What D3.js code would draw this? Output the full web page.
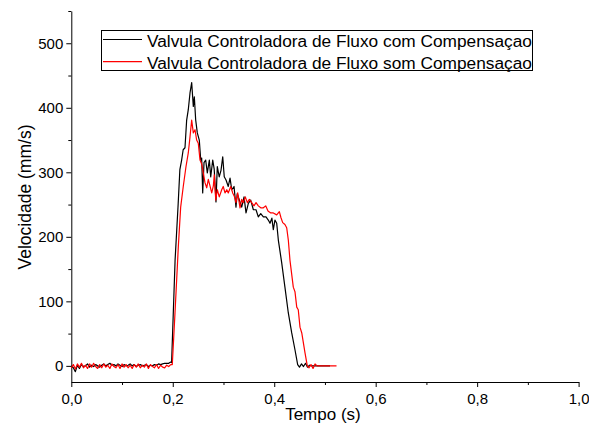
<!DOCTYPE html>
<html>
<head>
<meta charset="utf-8">
<script src="https://cdn.jsdelivr.net/npm/d3@7"></script>
<style>
  html, body { margin: 0; padding: 0; background: #fff; }
  svg { display: block; font-family: "Liberation Sans", Arial, sans-serif; }
</style>
</head>
<body>
<svg id="chart" width="589" height="425"></svg>
<script>
// Velocity of the cylinder over time for the two flow-control valves
const seriesNames = [
  "Valvula Controladora de Fluxo com Compensaçao",
  "Valvula Controladora de Fluxo som Compensaçao"
];
const seriesColors = ["#000000", "#ff0000"];

// Black trace: time (s)
const comTime = [
  0.000,0.004,0.008,0.012,0.016,0.020,0.024,0.028,0.032,0.036,
  0.040,0.044,0.048,0.052,0.056,0.060,0.064,0.068,0.072,0.076,
  0.080,0.084,0.088,0.092,0.096,0.100,0.104,0.108,0.112,0.116,
  0.120,0.124,0.128,0.132,0.136,0.140,0.144,0.148,0.152,0.156,
  0.160,0.164,0.168,0.172,0.176,0.180,0.184,0.188,0.192,0.196,
  0.1977,0.2046,0.2106,0.2140,0.2175,0.2205,0.2241,0.2274,0.2306,0.2340,
  0.2373,0.2405,0.2425,0.2452,0.2484,0.2523,0.2551,0.2570,0.2590,0.2616,
  0.2649,0.2681,0.2721,0.2748,0.2788,0.2817,0.2852,0.2878,0.2916,0.2951,
  0.2985,0.3015,0.3050,0.3094,0.3129,0.3163,0.3208,0.3246,0.3272,0.3312,
  0.3359,0.3405,0.3444,0.3490,0.3536,0.3589,0.3641,0.3686,0.3734,0.3786,
  0.3838,0.3883,0.3917,0.3954,0.3982,0.4014,0.4049,0.4081,0.4147,0.4211,
  0.4278,0.4345,0.4409,0.4462,0.4498,0.4538,0.4577,0.4617,0.4656,0.4696,
  0.4735,0.4775,0.4814,0.5100
];
// Black trace: velocity (mm/s)
const comSpeed = [
  0,-3,-9,1,-4,2,-1,0,3,-2,
  1,-1,2,0,-2,1,3,0,2,4,
  1,2,0,3,1,-1,2,0,1,3,
  0,2,-1,1,2,0,1,2,-1,1,
  0,2,1,3,2,3,4,4,4,6,
  5,164,250,304,319,335,338,381,397,423,
  439,402,417,381,361,350,319,322,268,315,
  319,299,319,293,319,305,254,309,293,303,
  324,293,288,278,291,273,278,246,267,257,
  246,262,237,252,257,242,242,231,236,231,
  231,226,221,229,211,226,221,195,160,122,
  82,51,25,2,-2,3,-1,4,-2,1,
  0,0,0,0
];

// Red trace: time (s)
const somTime = [
  0.000,0.004,0.008,0.012,0.016,0.020,0.024,0.028,0.032,0.036,
  0.040,0.044,0.048,0.052,0.056,0.060,0.064,0.068,0.072,0.076,
  0.080,0.084,0.088,0.092,0.096,0.100,0.104,0.108,0.112,0.116,
  0.120,0.124,0.128,0.132,0.136,0.140,0.144,0.148,0.152,0.156,
  0.160,0.164,0.168,0.172,0.176,0.180,0.184,0.188,0.192,0.196,
  0.1991,0.2044,0.2110,0.2156,0.2207,0.2261,0.2306,0.2340,0.2373,0.2405,
  0.2439,0.2471,0.2503,0.2537,0.2570,0.2602,0.2635,0.2669,0.2701,0.2734,
  0.2768,0.2800,0.2819,0.2847,0.2878,0.2917,0.2965,0.2995,0.3030,0.3065,
  0.3094,0.3143,0.3181,0.3213,0.3246,0.3280,0.3326,0.3359,0.3391,0.3430,
  0.3470,0.3509,0.3556,0.3601,0.3641,0.3687,0.3734,0.3786,0.3832,0.3877,
  0.3931,0.3982,0.4049,0.4101,0.4132,0.4167,0.4211,0.4246,0.4278,0.4310,
  0.4376,0.4409,0.4444,0.4474,0.4508,0.4543,0.4607,0.4652,0.4686,0.4725,
  0.4765,0.4805,0.4844,0.5228
];
// Red trace: velocity (mm/s)
const somSpeed = [
  -3,2,-5,3,-2,4,-3,1,-4,3,
  -2,4,-1,-4,2,-3,3,-2,1,-4,
  3,-1,-3,2,-4,3,-2,2,-3,1,
  -4,2,-2,3,-3,1,-2,3,-4,2,
  -1,-3,2,-4,1,-2,-3,1,-1,2,
  2,82,185,246,278,309,330,355,381,361,
  366,350,345,319,313,299,284,276,289,279,
  268,279,296,257,273,262,273,278,268,273,
  268,278,268,263,253,268,245,258,253,262,
  253,258,253,248,253,248,245,245,248,240,
  237,237,234,239,230,222,219,214,195,164,
  122,115,91,87,60,51,20,0,-3,2,
  -4,3,0,0
];

// Axis ticks and labels
const xMajorTicks = [0, 0.2, 0.4, 0.6, 0.8, 1.0];
const xMinorTicks = [0.1, 0.3, 0.5, 0.7, 0.9];
const yMajorTicks = [0, 100, 200, 300, 400, 500];
const yMinorTicks = [50, 150, 250, 350, 450, 550];
const xTitle = "Tempo (s)";
const yTitle = "Velocidade (mm/s)";

const svg = d3.select("#chart");
const x = d3.scaleLinear().domain([0, 1]).range([71.3, 578.6]);
const y = d3.scaleLinear().domain([-25, 550]).range([382, 11]);

const fmt = d => d3.format(".1f")(d).replace(".", ",");

// X axis
const gx = svg.append("g").attr("transform", `translate(0,${y(-25)})`);
gx.call(d3.axisBottom(x).tickValues(xMajorTicks).tickSize(5).tickSizeOuter(0).tickPadding(6).tickFormat(fmt));
gx.append("g").call(d3.axisBottom(x).tickValues(xMinorTicks).tickSize(3).tickSizeOuter(0).tickFormat(""))
  .select(".domain").remove();

// Y axis
const gy = svg.append("g").attr("transform", `translate(${x(0)},0)`);
gy.call(d3.axisLeft(y).tickValues(yMajorTicks).tickSize(5).tickSizeOuter(0).tickPadding(3));
gy.append("g").call(d3.axisLeft(y).tickValues(yMinorTicks).tickSize(3).tickSizeOuter(0).tickFormat(""))
  .select(".domain").remove();

svg.selectAll(".tick text").attr("font-size", 15).attr("fill", "#000")
  .attr("font-family", "'Liberation Sans', Arial, sans-serif");
svg.selectAll(".domain, .tick line").attr("stroke", "#000").attr("stroke-width", 1);

// Axis titles
svg.append("text")
  .attr("x", (x(0) + x(1)) / 2 - 2).attr("y", 420)
  .attr("text-anchor", "middle").attr("font-size", 17).text(xTitle);
svg.append("text")
  .attr("transform", `translate(31,${197}) rotate(-90)`)
  .attr("text-anchor", "middle").attr("font-size", 17.5).text(yTitle);

// Data lines
const series = [
  { t: comTime, v: comSpeed },
  { t: somTime, v: somSpeed }
];
const line = d3.line().x(d => x(d[0])).y(d => y(d[1]));
series.forEach((s, i) => {
  svg.append("path")
    .datum(d3.zip(s.t, s.v))
    .attr("d", line)
    .attr("fill", "none")
    .attr("stroke", seriesColors[i])
    .attr("stroke-width", 1.2)
    .attr("stroke-linejoin", "round");
});

// Legend
const lg = svg.append("g");
lg.append("rect")
  .attr("x", 101.5).attr("y", 30.5).attr("width", 431).attr("height", 40)
  .attr("fill", "#fff").attr("stroke", "#000").attr("stroke-width", 1);
seriesNames.forEach((name, i) => {
  const yy = 39.5 + i * 22.2;
  lg.append("line").attr("x1", 103).attr("x2", 142).attr("y1", yy).attr("y2", yy)
    .attr("stroke", seriesColors[i]).attr("stroke-width", 1.2);
  lg.append("text").attr("x", 147).attr("y", yy + 7).attr("font-size", 17.3)
    .attr("fill", "#000").text(name);
});
</script>
</body>
</html>
